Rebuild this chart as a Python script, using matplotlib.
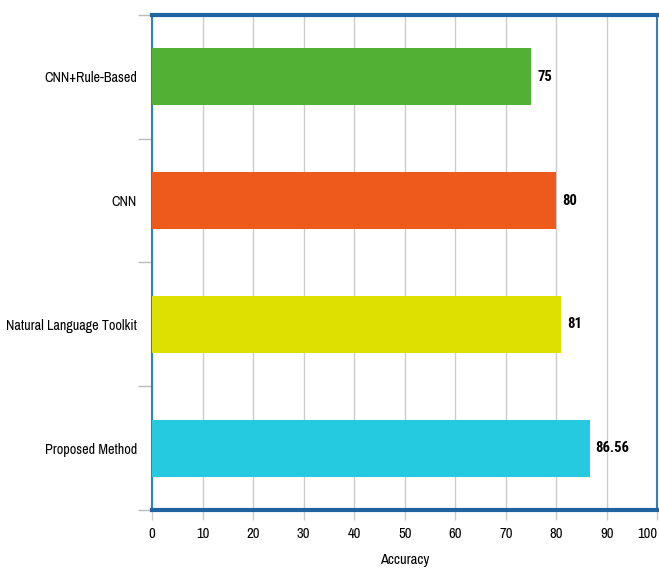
import matplotlib
matplotlib.use("Agg")
import matplotlib.pyplot as plt

# datos del grafico
metodos = ["CNN+Rule-Based", "CNN", "Natural Language Toolkit", "Proposed Method"]
valores = [75, 80, 81, 86.56]
etiquetas = ["75", "80", "81", "86.56"]
colores = ["#52b135", "#ed5a1c", "#dde000", "#25c9e0"]
ticks_x = [0, 10, 20, 30, 40, 50, 60, 70, 80, 90, 100]

plt.rcParams['font.family'] = ['Archivo Narrow', 'Liberation Sans', 'DejaVu Sans']

fig = plt.figure(figsize=(6.59, 5.70), dpi=100)
ax = fig.add_axes([0.2307, 0.1053, 0.767, 0.8684])

pos = list(range(len(metodos)))
ax.barh(pos, valores, height=0.46, color=colores, zorder=3)
for p, v, t in zip(pos, valores, etiquetas):
    ax.text(v + 1.2, p, t, va='center', ha='left', fontsize=10.5, fontweight='bold',
            family=['Roboto Condensed', 'PT Sans Narrow', 'DejaVu Sans'], zorder=4)

ax.set_ylim(len(metodos) - 0.5, -0.5)
ax.set_xlim(0, 100)
ax.set_yticks(pos)
ax.set_yticklabels(metodos, fontsize=10.2)
ax.set_yticks([-0.5, 0.5, 1.5, 2.5, 3.5], minor=True)
ax.tick_params(axis='y', which='major', length=0, pad=11)
ax.tick_params(axis='y', which='minor', length=10, color='#bbbbbb', width=1)
ax.set_xticks(ticks_x)
ax.set_xticklabels([str(t) for t in ticks_x], fontsize=10.5)
ax.get_xticklabels()[-1].set_horizontalalignment('right')
ax.tick_params(axis='x', length=7, color='#cccccc', width=1, pad=5)
ax.xaxis.grid(True, color='#cccccc', linewidth=1, zorder=0)
ax.set_xlabel("Accuracy", fontsize=10.5, labelpad=9)

ax.spines['top'].set_color('#1f64a0')
ax.spines['top'].set_linewidth(3)
ax.spines['bottom'].set_color('#1f64a0')
ax.spines['bottom'].set_linewidth(3)
ax.spines['left'].set_color('#2d82c0')
ax.spines['left'].set_linewidth(1.5)
ax.spines['right'].set_color('#2d82c0')
ax.spines['right'].set_linewidth(1.5)

fig.savefig("out.png", dpi=100)
